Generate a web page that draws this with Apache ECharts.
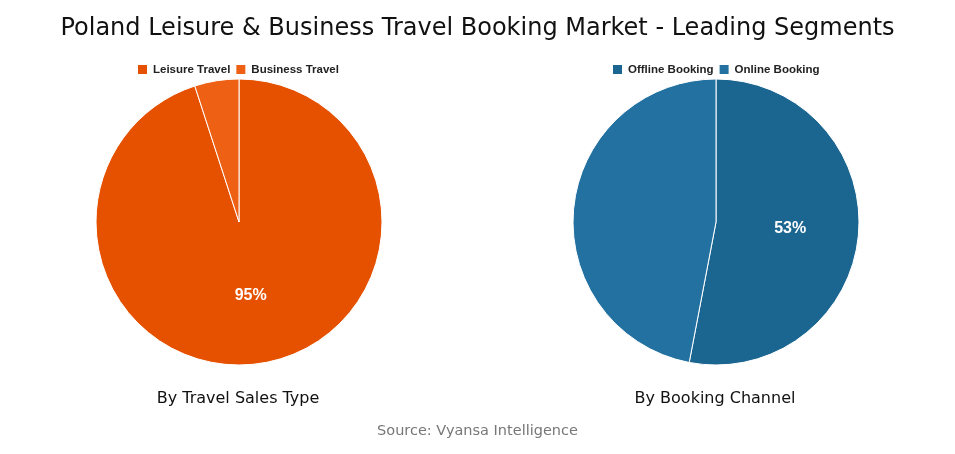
<!DOCTYPE html>
<html>
<head>
<meta charset="utf-8">
<script src="https://cdn.jsdelivr.net/npm/echarts@6/dist/echarts.min.js"></script>
<style>
html,body{margin:0;padding:0;background:#fff;}
#chart{width:955px;height:454px;}
</style>
</head>
<body>
<div id="chart"></div>
<script>
const salesTypeNames = ['Leisure Travel', 'Business Travel'];
const salesTypeValues = [95, 5];
const channelNames = ['Offline Booking', 'Online Booking'];
const channelValues = [53, 47];
const salesTypeColors = ['#E65100', '#EE6115'];
const channelColors = ['#1B6591', '#2271A1'];

function buildData(names, values, colors) {
  return names.map((n, i) => ({
    name: n,
    value: values[i],
    itemStyle: { color: colors[i] },
    label: { show: i === 0 }
  }));
}

const chart = echarts.init(document.getElementById('chart'));
const font = '"DejaVu Sans", "Noto Sans", sans-serif';
const bold = '"Liberation Sans", Arial, sans-serif';
chart.setOption({
  backgroundColor: '#fff',
  title: [
    { text: 'Poland Leisure & Business Travel Booking Market - Leading Segments', left: 'center', top: 12,
      textStyle: { fontFamily: font, fontSize: 24, fontWeight: 'normal', color: '#111' } },
    { text: 'By Travel Sales Type', left: 233, textAlign: 'center', top: 386,
      textStyle: { fontFamily: font, fontSize: 16, fontWeight: 'normal', color: '#111' } },
    { text: 'By Booking Channel', left: 710, textAlign: 'center', top: 386,
      textStyle: { fontFamily: font, fontSize: 16, fontWeight: 'normal', color: '#111' } },
    { text: 'Source: Vyansa Intelligence', left: 'center', top: 419,
      textStyle: { fontFamily: font, fontSize: 14.5, fontWeight: 'normal', color: '#777' } }
  ],
  legend: [
    { data: salesTypeNames, left: 131, top: 58, itemWidth: 11, itemHeight: 11, itemGap: 4, icon: 'rect',
      textStyle: { fontFamily: bold, fontSize: 11.5, fontWeight: 'bold', color: '#222' } },
    { data: channelNames, left: 606, top: 58, itemWidth: 11, itemHeight: 11, itemGap: 4, icon: 'rect',
      textStyle: { fontFamily: bold, fontSize: 11.5, fontWeight: 'bold', color: '#222' } }
  ],
  series: [
    { type: 'pie', center: [239, 222], radius: [0, 143], startAngle: 90, clockwise: true,
      data: buildData(salesTypeNames, salesTypeValues, salesTypeColors),
      itemStyle: { borderColor: '#fff', borderWidth: 1 },
      label: { position: 'inside', formatter: '{d}%', fontFamily: bold, fontSize: 16, fontWeight: 'bold', color: '#fff' },
      labelLine: { show: false }, emphasis: { disabled: true }, animation: false },
    { type: 'pie', center: [716, 222], radius: [0, 143], startAngle: 90, clockwise: true,
      data: buildData(channelNames, channelValues, channelColors),
      itemStyle: { borderColor: '#fff', borderWidth: 1 },
      label: { position: 'inside', formatter: '{d}%', fontFamily: bold, fontSize: 16, fontWeight: 'bold', color: '#fff' },
      labelLine: { show: false }, emphasis: { disabled: true }, animation: false }
  ]
});
</script>
</body>
</html>
